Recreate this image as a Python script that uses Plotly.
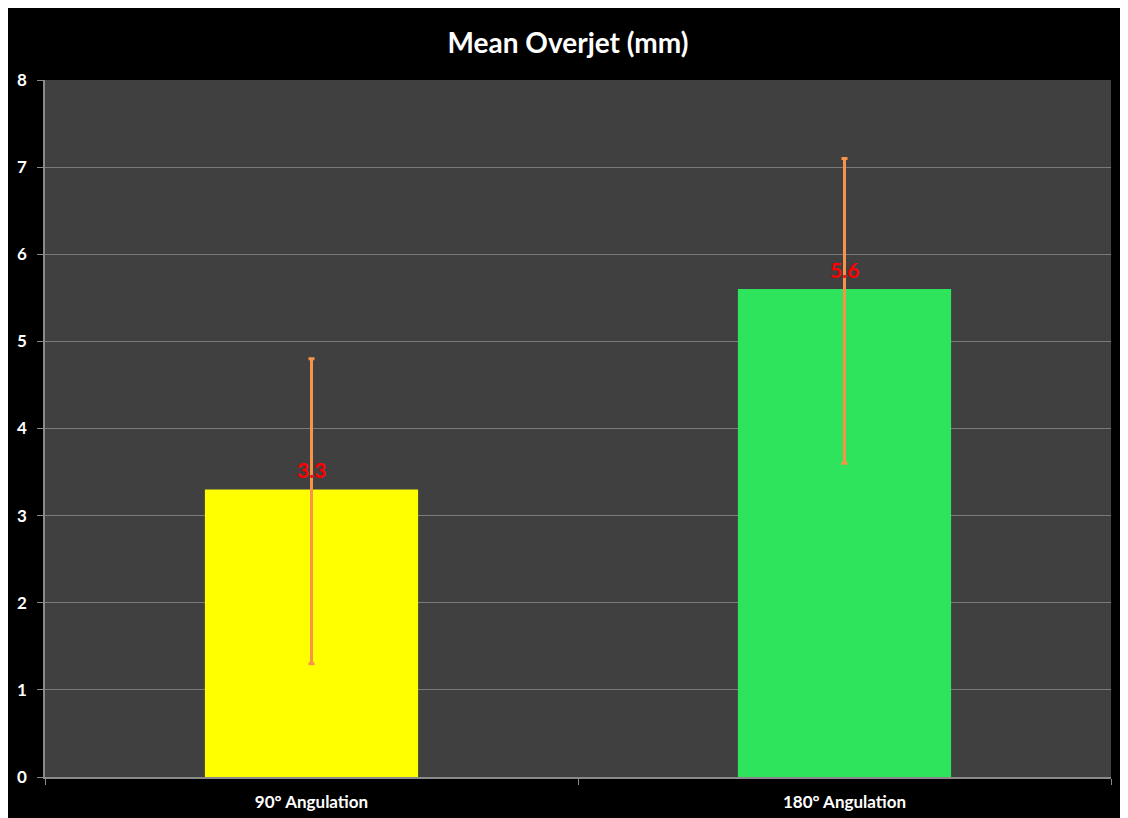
import plotly.graph_objects as go

categories = ["90° Angulation", "180° Angulation"]
means = [3.3, 5.6]
err_plus = [1.5, 1.5]
err_minus = [2.0, 2.0]
bar_colors = ["#FFFF00", "#2EE45C"]
y_ticks = [0, 1, 2, 3, 4, 5, 6, 7, 8]

# page body adds an 8px offset; the white strip it leaves matches the reference border
W, H = 1120, 810
ml, mr, mt, mb = 37, 17, 72, 41

fig = go.Figure()
fig.add_trace(go.Bar(
    x=categories, y=means,
    marker=dict(color=bar_colors, line=dict(width=0)),
    width=0.4,
    error_y=dict(type="data", symmetric=False, array=err_plus, arrayminus=err_minus,
                 color="#F7944A", thickness=3, width=3),
))

annotations = [
    dict(x=c, y=v, xref="x", yref="y", text=f"<b>{v:.1f}</b>", showarrow=False,
         yanchor="middle", yshift=20, font=dict(color="#FF0000", size=21, family="Lato"))
    for c, v in zip(categories, means)
]

fig.update_layout(
    width=W, height=H,
    margin=dict(l=ml, r=mr, t=mt, b=mb, pad=0, autoexpand=False),
    paper_bgcolor="black",
    plot_bgcolor="#404040",
    showlegend=False,
    annotations=annotations,
    title=dict(text="<b>Mean Overjet (mm)</b>", x=0.5, xanchor="center", y=1 - 35 / H, yanchor="middle",
               font=dict(color="white", size=28, family="Lato")),
    font=dict(family="Lato", color="white"),
    xaxis=dict(
        automargin=False,
        showgrid=False, showline=True, linecolor="#8a8a8a", linewidth=1.5,
        ticks="outside", tickson="boundaries", ticklen=6, tickcolor="#8a8a8a",
        tickfont=dict(color="white", size=17, family="Lato", weight="bold"),
        ticklabelstandoff=9,
        range=[-0.5, 1.5],
    ),
    yaxis=dict(
        automargin=False,
        range=[0, 8], tickvals=y_ticks, showgrid=True, gridcolor="#7a7a7a", gridwidth=1,
        showline=True, linecolor="#8a8a8a", linewidth=1.5, zeroline=False,
        ticks="outside", ticklen=6, tickcolor="#8a8a8a",
        tickfont=dict(color="white", size=17, family="Lato", weight="bold"),
        ticklabelstandoff=7,
    ),
)

fig.write_html("out.html")
